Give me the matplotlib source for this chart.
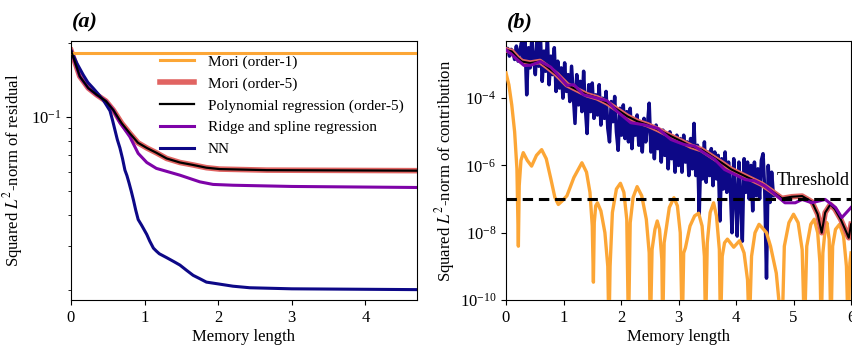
import numpy as np
import matplotlib.pyplot as plt
from matplotlib.ticker import NullFormatter, NullLocator

plt.rcParams['font.family'] = ['Liberation Serif', 'DejaVu Serif']
plt.rcParams['mathtext.fontset'] = 'stix'

# цвета (палитра plasma)
c_mori1 = '#fca636'
c_mori5 = '#e16462'
c_poly = 'black'
c_ridge = '#7e03a8'
c_nn = '#0d0887'

# ---- (a) норма невязки от длины памяти ----
mori1_x = [0.0, 4.7]
mori1_res = [0.181, 0.181]

poly_x = [0.0, 0.12, 0.235, 0.35, 0.475, 0.575, 0.69, 0.80, 0.91, 1.03, 1.16,
          1.30, 1.48, 1.66, 1.84, 2.02, 2.66, 4.7]
poly_res = [0.186, 0.146, 0.131, 0.123, 0.116, 0.1067, 0.0943, 0.0859, 0.0787,
            0.0750, 0.0717, 0.0680, 0.0655, 0.0640, 0.0624, 0.0616, 0.0610, 0.0607]
mori5_res = poly_res

ridge_x = [0.0, 0.12, 0.235, 0.35, 0.475, 0.575, 0.66, 0.80, 0.913, 1.03, 1.16,
           1.48, 1.75, 1.93, 2.2, 3.0, 4.7]
ridge_res = [0.186, 0.146, 0.131, 0.123, 0.116, 0.1067, 0.0955, 0.0832, 0.0713,
             0.0655, 0.0620, 0.0582, 0.0547, 0.0534, 0.0530, 0.0524, 0.0519]

nn_x = [0.0, 0.08, 0.167, 0.23, 0.30, 0.37, 0.44, 0.48, 0.53, 0.565, 0.60, 0.63,
        0.665, 0.70, 0.733, 0.76, 0.79, 0.82, 0.85, 0.88, 0.913, 0.96, 1.03,
        1.07, 1.12, 1.16, 1.20, 1.30, 1.40, 1.48, 1.57, 1.66, 1.75, 1.84, 1.93,
        2.02, 2.2, 2.43, 3.0, 4.68]
nn_res = [0.186, 0.165, 0.148, 0.138, 0.131, 0.124, 0.117, 0.112, 0.106, 0.097,
          0.088, 0.081, 0.075, 0.068, 0.061, 0.058, 0.054, 0.050, 0.046, 0.042,
          0.0385, 0.0365, 0.0335, 0.0315, 0.0295, 0.0287, 0.0280, 0.0270,
          0.0260, 0.0252, 0.0240, 0.0229, 0.0222, 0.0215, 0.0213, 0.0211,
          0.0207, 0.0204, 0.0202, 0.02005]

# ---- (b) вклад каждого слагаемого памяти (log10) ----
poly_cx = [0.0, 0.1, 0.2, 0.275, 0.42, 0.59, 0.71, 0.885, 1.06, 1.235, 1.41,
           1.585, 1.76, 1.935, 2.11, 2.285, 2.46, 2.64, 2.87, 3.05, 3.22, 3.40,
           3.57, 3.75, 3.92, 4.10, 4.27, 4.45, 4.62, 4.80, 4.97, 5.15, 5.32,
           5.42, 5.49, 5.55, 5.64, 5.72, 5.82, 5.91, 5.96, 6.0]
poly_clog = [-2.563, -2.61, -2.80, -2.91, -2.957, -2.909, -3.06, -3.30, -3.60,
             -3.75, -3.90, -3.99, -4.14, -4.34, -4.54, -4.69, -4.79, -4.93, -5.13,
             -5.28, -5.43, -5.53, -5.72, -5.92, -6.12, -6.27, -6.41, -6.56, -6.76,
             -6.98, -6.93, -6.91, -7.08, -7.45, -8.0, -7.4, -7.16, -7.3, -7.6,
             -7.95, -8.15, -7.75]
mori5_clog = poly_clog

ridge_cx = [0.0, 0.1, 0.2, 0.315, 0.43, 0.60, 0.78, 0.95, 1.06, 1.18, 1.35, 1.52,
            1.76, 1.93, 2.17, 2.40, 2.64, 2.87, 3.10, 3.28, 3.45, 3.63, 3.80,
            3.98, 4.16, 4.33, 4.50, 4.68, 4.85, 5.03, 5.15, 5.32, 5.55, 5.73,
            5.84, 6.0]
ridge_clog = [-2.563, -2.70, -2.86, -3.03, -3.02, -2.91, -3.08, -3.40, -3.62,
              -3.60, -3.90, -3.97, -4.08, -4.39, -4.73, -4.79, -4.90, -5.23,
              -5.38, -5.43, -5.63, -5.82, -6.12, -6.27, -6.42, -6.46, -6.61,
              -6.86, -7.11, -7.11, -7.01, -7.11, -7.01, -7.25, -7.55, -7.25]

nn_clog = [
    -2.56, -2.52, -2.75, -2.55, -2.62, -2.85, -2.45, -2.90, -2.60, -2.35,
    -2.95, -2.25, -3.90, -2.50, -3.10, -2.20, -2.80, -3.30, -2.30, -3.05,
    -2.25, -3.50, -2.60, -3.20, -2.20, -3.60, -2.75, -3.30, -2.50, -3.80,
    -2.90, -3.70, -3.10, -4.00, -2.95, -3.80, -3.30, -4.10, -3.05, -3.90,
    -4.75, -3.30, -4.20, -3.50, -4.40, -3.20, -4.30, -5.05, -3.60, -4.40,
    -3.55, -4.60, -3.90, -4.50, -3.60, -4.80, -4.00, -4.60, -3.80, -4.90,
    -5.30, -4.10, -4.70, -3.95, -5.00, -5.55, -4.30, -5.10, -4.20, -5.20,
    -4.40, -5.30, -4.30, -5.50, -4.60, -5.10, -4.50, -5.40, -4.70, -5.60,
    -4.60, -5.30, -4.80, -4.15, -5.60, -4.90, -5.80, -4.80, -5.50, -5.00,
    -5.90, -4.95, -5.70, -5.10, -6.10, -5.00, -5.80, -5.20, -6.20, -5.10,
    -6.00, -5.20, -6.20, -5.10, -5.90, -5.30, -6.30, -5.20, -6.10, -4.75,
    -6.30, -5.40, -7.45, -5.50, -6.40, -5.30, -6.50, -5.60, -6.30, -5.50,
    -6.60, -5.60, -6.40, -5.70, -7.65, -5.80, -6.70, -5.60, -6.80, -5.90,
    -6.60, -8.00, -5.80, -6.90, -8.10, -5.90, -7.00, -8.25, -5.80, -6.80,
    -5.90, -7.00, -6.00, -7.35, -5.90, -6.90, -6.10, -7.00, -5.85, -5.65,
    -6.80, -9.35, -6.00, -7.10, -6.20, -6.90,
]
nn_cx = np.linspace(0.0, 4.65, len(nn_clog))

mori1_cx = [0.00, 0.05, 0.10, 0.15, 0.19, 0.215, 0.23, 0.26, 0.30, 0.37, 0.445,
            0.53, 0.62, 0.70, 0.78, 0.85, 0.91, 0.98, 1.06, 1.18, 1.32, 1.40,
            1.46, 1.50, 1.52, 1.535, 1.56, 1.59, 1.65, 1.72, 1.77, 1.79, 1.81,
            1.85, 1.92, 1.99, 2.05, 2.10, 2.13, 2.16, 2.21, 2.28, 2.36, 2.44,
            2.49, 2.51, 2.54, 2.59, 2.63, 2.67, 2.71, 2.725, 2.75, 2.84, 2.92,
            2.98, 3.03, 3.065, 3.09, 3.12, 3.20, 3.28, 3.35, 3.41, 3.45, 3.47,
            3.50, 3.55, 3.61, 3.66, 3.71, 3.73, 3.76, 3.80, 3.85, 3.96, 4.06,
            4.14, 4.20, 4.23, 4.27, 4.33, 4.40, 4.48, 4.53, 4.60, 4.70, 4.80,
            4.84, 4.92, 5.00, 5.08, 5.15, 5.19, 5.23, 5.30, 5.36, 5.42, 5.46,
            5.48, 5.51, 5.55, 5.58, 5.62, 5.65, 5.68, 5.73, 5.80, 5.87, 5.92,
            5.95, 5.98, 6.0]
mori1_clog = [-3.25, -3.6, -4.2, -5.0, -6.1, -8.4, -6.6, -5.85, -5.62, -5.85,
              -6.02, -5.7, -5.53, -5.8, -6.4, -6.95, -7.16, -7.05, -6.9, -6.36,
              -5.92, -6.2, -6.8, -7.8, -9.47, -7.7, -7.2, -7.11, -7.35, -8.0,
              -9.0, -11.0, -9.0, -7.4, -6.7, -6.53, -6.8, -7.6, -11.0, -7.7,
              -6.95, -6.63, -6.9, -7.6, -8.6, -11.0, -8.5, -7.9, -7.65, -7.9,
              -8.8, -11.0, -8.3, -7.25, -6.96, -7.2, -8.0, -11.0, -8.6, -8.45,
              -7.8, -7.5, -7.42, -7.8, -8.7, -11.0, -8.3, -7.4, -7.11, -7.5,
              -8.5, -11.0, -8.7, -8.3, -8.19, -8.43, -8.24, -8.6, -9.4, -11.0,
              -8.7, -8.0, -7.75, -7.9, -8.0, -8.4, -9.2, -11.0, -8.4, -7.7,
              -7.45, -7.7, -8.5, -11.0, -8.4, -7.75, -7.6, -8.0, -8.9, -11.0,
              -8.6, -7.9, -7.7, -8.2, -11.0, -8.4, -7.9, -7.75, -8.1, -9.0,
              -11.0, -8.9, -8.6]

threshold = 1e-7

fig = plt.figure(figsize=(8.53, 3.45), dpi=100)
ax1 = fig.add_axes([0.0832, 0.1304, 0.4056, 0.7507])
ax2 = fig.add_axes([0.5932, 0.1304, 0.4045, 0.7507])

# левая панель
l1, = ax1.plot(mori1_x, mori1_res, color=c_mori1, lw=2.2, zorder=3)
l2, = ax1.plot(poly_x, mori5_res, color=c_mori5, lw=4.0, zorder=2)
l3, = ax1.plot(poly_x, poly_res, color=c_poly, lw=1.6, zorder=4)
l4, = ax1.plot(ridge_x, ridge_res, color=c_ridge, lw=2.2, zorder=2)
l5, = ax1.plot(nn_x, nn_res, color=c_nn, lw=2.2, zorder=2)
ax1.set_yscale('log')
ax1.set_xlim(0, 4.7)
ax1.set_ylim(0.0182, 0.203)
ax1.set_xticks([0, 1, 2, 3, 4])
ax1.yaxis.set_minor_formatter(NullFormatter())
ax1.set_xlabel('Memory length', fontsize=12, labelpad=2)
ax1.set_ylabel('Squared $L^2$-norm of residual', fontsize=12, labelpad=4)
ax1.tick_params(labelsize=12)
ax1.legend([l1, l2, l3, l4, l5],
           ['Mori (order-1)', 'Mori (order-5)', 'Polynomial regression (order-5)',
            'Ridge and spline regression', 'NN'],
           loc='upper left', bbox_to_anchor=(0.218, 1.0), frameon=False,
           fontsize=11, handlelength=2.2, handletextpad=0.9, labelspacing=0.53)

# правая панель
ax2.plot(nn_cx, 10.0 ** np.array(nn_clog), color=c_nn, lw=2.5, zorder=2)
ax2.plot(mori1_cx, 10.0 ** np.array(mori1_clog), color=c_mori1, lw=2.4, zorder=3)
ax2.plot(poly_cx, 10.0 ** np.array(mori5_clog), color=c_mori5, lw=4.0, zorder=4)
ax2.plot(poly_cx, 10.0 ** np.array(poly_clog), color=c_poly, lw=1.5, zorder=5)
ax2.plot(ridge_cx, 10.0 ** np.array(ridge_clog), color=c_ridge, lw=2.2, zorder=6)
ax2.axhline(threshold, color='black', ls='--', lw=2.2, dashes=(3.4, 1.9), zorder=7)
ax2.text(4.7, 10 ** -6.44, 'Threshold', fontsize=13, ha='left', va='center')
ax2.set_yscale('log')
ax2.set_xlim(0, 6)
ax2.set_ylim(1e-10, 5e-3)
ax2.set_xticks([0, 1, 2, 3, 4, 5, 6])
ax2.set_yticks([1e-10, 1e-8, 1e-6, 1e-4])
ax2.yaxis.set_minor_locator(NullLocator())
ax2.set_xlabel('Memory length', fontsize=12, labelpad=2)
ax2.set_ylabel('Squared $L^2$-norm of contribution', fontsize=12, labelpad=2)
ax2.tick_params(labelsize=12)

fig.text(0.0845, 0.935, '(a)', fontsize=16, fontweight='bold', style='italic', va='center')
fig.text(0.594, 0.935, '(b)', fontsize=16, fontweight='bold', style='italic', va='center')

fig.savefig('out.png', dpi=100)
